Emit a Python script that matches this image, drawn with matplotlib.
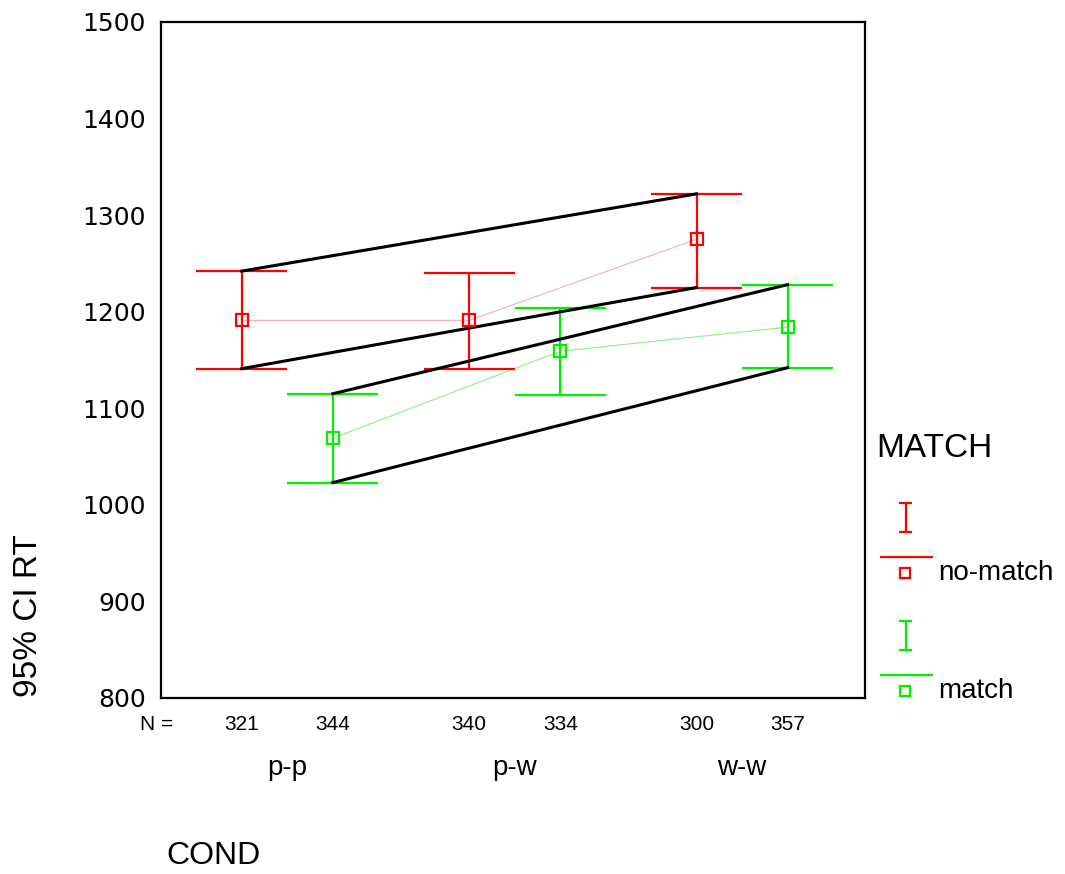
import matplotlib
matplotlib.use("Agg")
import matplotlib.pyplot as plt

plt.rcParams["font.family"] = "Liberation Sans"

# Data
conds = ["p-p", "p-w", "w-w"]
groups = ["no-match", "match"]
colors = {"no-match": "#ff0000", "match": "#00f000"}
pale = {"no-match": "#ffaaaa", "match": "#88f088"}

means = {"no-match": [1191, 1191, 1275], "match": [1069, 1159, 1184]}
lower = {"no-match": [1141, 1141, 1225], "match": [1023, 1114, 1142]}
upper = {"no-match": [1242, 1240, 1322], "match": [1115, 1204, 1228]}
counts = {"no-match": [321, 340, 300], "match": [344, 334, 357]}

offset = {"no-match": -0.2, "match": 0.2}
cap = 0.2

fig = plt.figure(figsize=(10.65, 8.74), dpi=100)
ax = fig.add_axes([0.1512, 0.2014, 0.661, 0.7735])

centers = [1, 2, 3]
for g in groups:
    xs = [c + offset[g] for c in centers]
    col = colors[g]
    ax.vlines(xs, lower[g], upper[g], color=col, lw=1.6, zorder=3)
    ax.hlines(lower[g], [x - cap for x in xs], [x + cap for x in xs], color=col, lw=1.6, zorder=3)
    ax.hlines(upper[g], [x - cap for x in xs], [x + cap for x in xs], color=col, lw=1.6, zorder=3)
    ax.plot(xs, means[g], color=pale[g], lw=0.8, zorder=2)
    ax.plot(xs, means[g], ls="none", marker="s", ms=9, mfc="none",
            mec=col, mew=1.6, zorder=4)
    # envelope lines from first to last interval
    ax.plot([xs[0], xs[-1]], [upper[g][0], upper[g][-1]], color="black", lw=2.2, zorder=3.5)
    ax.plot([xs[0], xs[-1]], [lower[g][0], lower[g][-1]], color="black", lw=2.2, zorder=3.5)
    for x, n in zip(xs, counts[g]):
        ax.text(x, -0.0392, str(n), transform=ax.get_xaxis_transform(),
                ha="center", va="center", fontsize=15)

ax.text(-0.006, -0.0392, "N =", transform=ax.transAxes, ha="center", va="center", fontsize=15)
for c, lab in zip(centers, conds):
    ax.text(c, -0.1139, lab, transform=ax.get_xaxis_transform(),
            ha="center", va="baseline", fontsize=20)

ax.set_xlim(0.445, 3.54)
ax.set_ylim(800, 1500)
ax.set_xticks([])
ax.set_yticks(range(800, 1501, 100))
ax.tick_params(axis="y", length=0, pad=11)
for t in ax.get_yticklabels():
    t.set_fontfamily("DejaVu Sans")
    t.set_fontsize(18)
for s in ax.spines.values():
    s.set_linewidth(1.6)

fig.text(0.0263, 0.2025, "95% CI RT", rotation=90, ha="center", va="bottom", fontsize=24)
fig.text(0.156, 0.0206, "COND", ha="left", va="center", fontsize=23)
fig.text(0.8225, 0.4863, "MATCH", ha="left", va="center", fontsize=24)

# legend glyphs drawn in pixel space on an overlay
lg = fig.add_axes([0, 0, 1, 1])
lg.set_xlim(0, 1065)
lg.set_ylim(874, 0)
lg.axis("off")
for g, top in zip(groups, [503, 621]):
    col = colors[g]
    lg.vlines(905.5, top, top + 29, color=col, lw=1.6)
    lg.hlines([top, top + 29], 899, 912, color=col, lw=1.6)
    lg.hlines(top + 54, 880, 933, color=col, lw=1.6)
    lg.plot(904.5, top + 70, ls="none", marker="s", ms=7, mfc="none", mec=col, mew=1.6)
    lg.text(938, top + 70, g, ha="left", va="center", fontsize=20)

fig.savefig("out.png", dpi=100)
